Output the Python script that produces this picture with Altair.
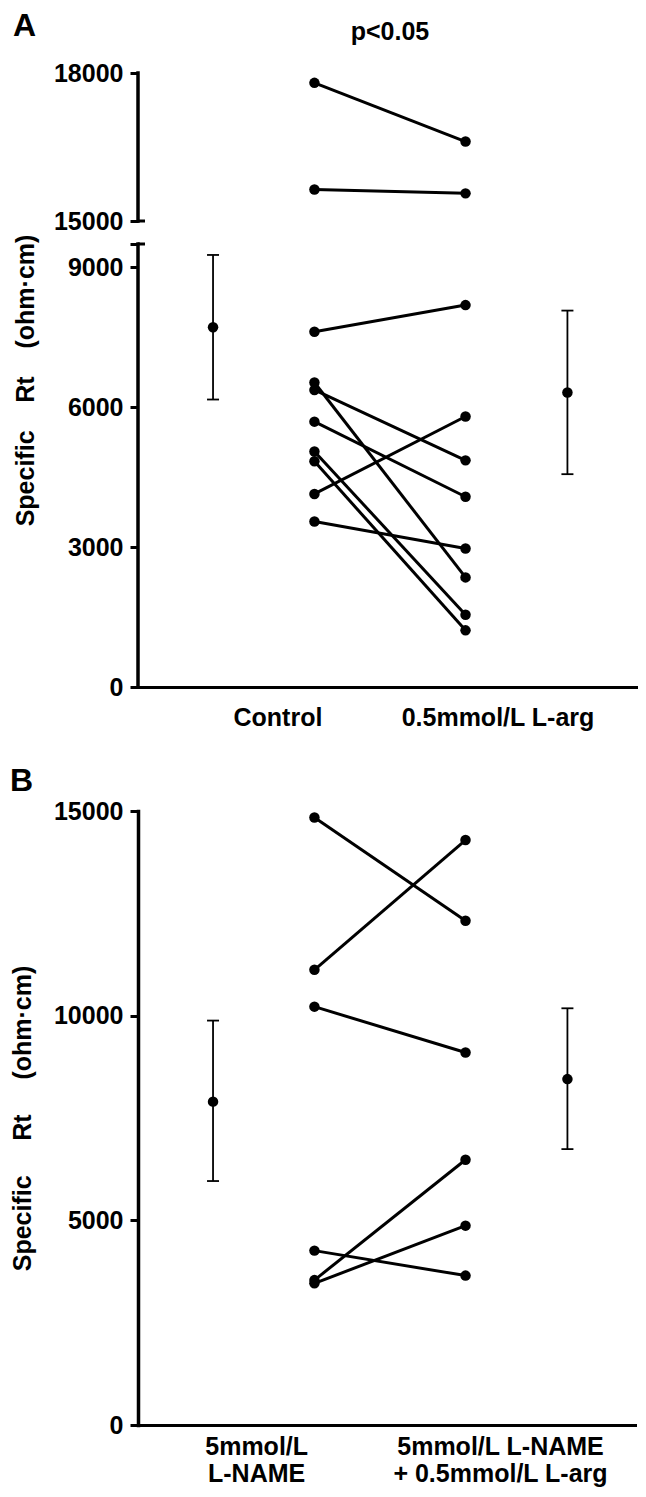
import altair as alt
import pandas as pd

FONT = "Liberation Sans"
FS = 25
H = 614
W_A, W_B = 500, 497
NB = "\u00a0"

# x positions (units of ~50.7 px): mean(before), paired before, paired after, mean(after)
col_pos = [1.48, 3.48, 6.46, 8.47]

# ---- Panel A data ----
a_before = [17800, 15640, 7620, 6530, 6370, 5690, 5050, 4840, 4140, 3550]
a_after = [16610, 15560, 8190, 2350, 4860, 4080, 1550, 1215, 5800, 2970]
a_mean = [7714, 6315]
a_low = [6165, 4564]
a_high = [9265, 8072]
a_labels = ["Control", "0.5mmol/L L-arg"]
a_label_pos = [2.76, 7.1]
a_ticks = [0, 3000, 6000, 9000, 9500, 15000, 18000]
a_domain = [0, 9500, 15000, 18000]
a_seg_lo = [0, 15000]
a_seg_hi = [9500, 18000]
a_breaks = [9500, 15000]
a_p_text = ["p<0.05"]

# ---- Panel B data ----
b_before = [14840, 11120, 10220, 4260, 3540, 3460]
b_after = [12320, 14290, 9100, 3650, 6480, 4870]
b_mean = [7900, 8450]
b_low = [5960, 6740]
b_high = [9880, 10180]
b_labels = ["5mmol/L\nL-NAME", "5mmol/L L-NAME\n+ 0.5mmol/L L-arg" + NB * 3]
b_label_pos = [2.34, 7.15]
b_ticks = [0, 5000, 10000, 15000]
b_domain = [0, 15000]

title_a = "Specific" + NB * 4 + "Rt" + NB * 4 + "(ohm·cm)"
title_b = "Specific" + NB * 5 + "Rt" + NB * 5 + "(ohm·cm)"


def make_xenc(xmax):
    def xenc(field="x"):
        return alt.X(f"{field}:Q", scale=alt.Scale(domain=[0, xmax], nice=False, zero=False),
                     axis=alt.Axis(labels=False, ticks=False, title=None, grid=False,
                                   domainWidth=3, domainColor="black", domainCap="square"))
    return xenc


def build_panel(before, after, mean, low, high, labels, label_pos, yscale, yaxis, xenc,
                letter, letter_x, letter_y, label_dy, label_lh):
    n = len(before)
    pairs = pd.DataFrame({"id": list(range(n)) * 2,
                          "x": [col_pos[1]] * n + [col_pos[2]] * n,
                          "v": list(before) + list(after)})
    means = pd.DataFrame({"x": [col_pos[0], col_pos[3]], "v": mean, "lo": low, "hi": high})
    caps = pd.DataFrame({"x": [col_pos[0], col_pos[3]] * 2, "v": list(low) + list(high)})
    labs = pd.DataFrame({"x": label_pos, "t": labels})

    def yenc(field):
        return alt.Y(f"{field}:Q", scale=yscale, axis=yaxis)

    lines = alt.Chart(pairs).mark_line(color="black", strokeWidth=3).encode(
        x=xenc(), y=yenc("v"), detail="id:N")
    pts = alt.Chart(pairs).mark_circle(color="black", size=110, opacity=1).encode(
        x=xenc(), y=yenc("v"))
    bars = alt.Chart(means).mark_rule(color="black", strokeWidth=1.8).encode(
        x=xenc(), y=yenc("lo"), y2="hi:Q")
    capm = alt.Chart(caps).mark_tick(color="black", orient="horizontal", size=12,
                                     thickness=1.8, opacity=1).encode(x=xenc(), y=yenc("v"))
    mpts = alt.Chart(means).mark_circle(color="black", size=110, opacity=1).encode(
        x=xenc(), y=yenc("v"))
    ltxt = alt.Chart(labs).mark_text(font=FONT, fontSize=FS, fontWeight="bold", lineBreak="\n",
                                     lineHeight=label_lh, baseline="alphabetic", align="center",
                                     color="black").encode(
        x=xenc(), y=alt.value(H + label_dy), text="t:N")
    lett = alt.Chart(pd.DataFrame({"t": [letter]})).mark_text(
        font=FONT, fontSize=32, fontWeight="bold", align="left", baseline="top",
        color="black").encode(x=alt.value(letter_x), y=alt.value(letter_y), text="t:N")
    return [lines, pts, bars, capm, mpts, ltxt, lett], yenc


axis_common = dict(grid=False, format="d", tickSize=8, tickWidth=3, tickColor="black",
                   labelPadding=7, labelOverlap=False, labelFlush=False,
                   titlePadding=17, titleFont=FONT, titleFontSize=FS, titleFontWeight="bold",
                   labelFont=FONT, labelFontSize=FS, labelFontWeight="bold",
                   labelColor="black", titleColor="black")

# Panel A (broken axis via piecewise linear scale)
xenc_a = make_xenc(10 * W_A / 507)
a_scale = alt.Scale(domain=a_domain, range=[H, 171, 148, 0], nice=False, zero=False)
a_axis = alt.Axis(values=a_ticks, labelExpr="datum.value == 9500 ? '' : datum.label",
                  domain=False, title=title_a, minExtent=83, maxExtent=83, **axis_common)
a_layers, a_yenc = build_panel(a_before, a_after, a_mean, a_low, a_high, a_labels, a_label_pos,
                               a_scale, a_axis, xenc_a, "A", -125, -62, 39, 27)
seg = alt.Chart(pd.DataFrame({"lo": a_seg_lo, "hi": a_seg_hi})).mark_rule(
    color="black", strokeWidth=3.5, strokeCap="square").encode(
    x=alt.value(0), y=a_yenc("lo"), y2="hi:Q")
brk = alt.Chart(pd.DataFrame({"v": a_breaks})).mark_rule(color="black", strokeWidth=3).encode(
    x=alt.value(0), x2=alt.value(7), y=a_yenc("v"))
ptxt = alt.Chart(pd.DataFrame({"x": [(col_pos[1] + col_pos[2]) / 2], "t": a_p_text})).mark_text(
    font=FONT, fontSize=FS, fontWeight="bold", baseline="alphabetic", align="center",
    color="black").encode(x=xenc_a(), y=alt.value(-33), text="t:N")
panel_a = alt.layer(*a_layers, seg, brk, ptxt).properties(width=W_A, height=H)

# Panel B
xenc_b = make_xenc(10 * W_B / 507)
b_scale = alt.Scale(domain=b_domain, nice=False, zero=False)
b_axis = alt.Axis(values=b_ticks, domain=True, domainWidth=3.5, domainColor="black",
                  domainCap="square", title=title_b, minExtent=86, maxExtent=86, **axis_common)
b_layers, _ = build_panel(b_before, b_after, b_mean, b_low, b_high, b_labels, b_label_pos,
                          b_scale, b_axis, xenc_b, "B", -128, -45, 30, 27)
panel_b = alt.layer(*b_layers).properties(width=W_B, height=H)

chart = alt.vconcat(panel_a, panel_b, spacing=34).properties(
    padding={"left": 2, "top": 2, "right": 0, "bottom": 0},
    background="white",
).configure_view(stroke=None)

chart.save("out.html", embed_options={"renderer": "svg", "actions": False})
